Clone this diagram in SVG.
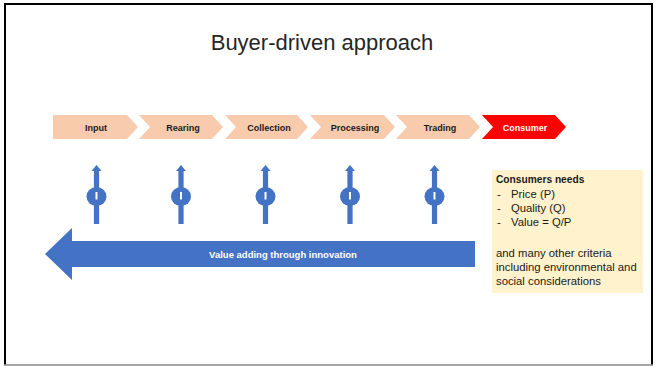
<svg xmlns="http://www.w3.org/2000/svg" width="657" height="367" viewBox="0 0 657 367">
  <style>
    .stage { fill: #F8CBAD; }
    .stage-label { font-family: "Liberation Sans", Arial, sans-serif; font-size: 9px; font-weight: bold; fill: #1a1a1a; text-anchor: middle; }
    .lift { fill: #4472C4; }
    .note { font-family: "Liberation Sans", Arial, sans-serif; font-size: 11.3px; fill: #1a1a1a; }
    .note-head { font-family: "Liberation Sans", Arial, sans-serif; font-size: 10.2px; font-weight: bold; fill: #1a1a1a; }
  </style>
  <defs>
    <!-- one upward innovation arrow with its round knob, centred on x=0 -->
    <g id="lift-arrow">
      <rect class="lift" x="-2.6" y="170" width="5.2" height="54"/>
      <polygon class="lift" points="0,165 5,171 -5,171"/>
      <ellipse class="lift" cx="0" cy="196.5" rx="10" ry="9.5"/>
      <rect x="-1" y="192" width="2" height="7.5" fill="#ffffff"/>
    </g>
  </defs>

  <!-- slide frame -->
  <rect x="0" y="0" width="657" height="367" fill="#ffffff"/>
  <line x1="5" y1="4" x2="652" y2="4" stroke="#000000" stroke-width="2"/>
  <line x1="5" y1="3" x2="5" y2="365" stroke="#000000" stroke-width="2"/>
  <line x1="652" y1="3" x2="652" y2="365" stroke="#000000" stroke-width="2"/>
  <line x1="4" y1="365" x2="653" y2="365" stroke="#8a8a8a" stroke-width="1.5"/>

  <text x="322" y="50" font-family="'Liberation Sans', Arial, sans-serif" font-size="22" fill="#262626" text-anchor="middle">Buyer-driven approach</text>

  <!-- value chain stages -->
  <g id="stage-input">
    <polygon class="stage" points="53,115 127,115 138,127 127,139 53,139"/>
    <text class="stage-label" x="96" y="130.5">Input</text>
  </g>
  <g id="stage-rearing">
    <polygon class="stage" points="139,115 212,115 223,127 212,139 139,139 150,127"/>
    <text class="stage-label" x="183" y="130.5">Rearing</text>
  </g>
  <g id="stage-collection">
    <polygon class="stage" points="225,115 297,115 308,127 297,139 225,139 236,127"/>
    <text class="stage-label" x="269" y="130.5">Collection</text>
  </g>
  <g id="stage-processing">
    <polygon class="stage" points="310,115 384,115 395,127 384,139 310,139 321,127"/>
    <text class="stage-label" x="355" y="130.5">Processing</text>
  </g>
  <g id="stage-trading">
    <polygon class="stage" points="396,115 469,115 480,127 469,139 396,139 407,127"/>
    <text class="stage-label" x="440" y="130.5">Trading</text>
  </g>
  <g id="stage-consumer">
    <polygon fill="#FF0000" points="482,115 555,115 566,127 555,139 482,139 493,127"/>
    <text class="stage-label" x="525" y="130.5" style="fill:#ffffff">Consumer</text>
  </g>

  <!-- innovation arrows under each stage -->
  <g id="connectors">
    <use href="#lift-arrow" x="96.5"/>
    <use href="#lift-arrow" x="181"/>
    <use href="#lift-arrow" x="265.5"/>
    <use href="#lift-arrow" x="350"/>
    <use href="#lift-arrow" x="434.5"/>
  </g>

  <!-- value adding arrow -->
  <g id="value-arrow">
    <polygon fill="#4472C4" points="45,254 72,228 72,241 475,241 475,267 72,267 72,280"/>
    <text x="283" y="257.5" font-family="'Liberation Sans', Arial, sans-serif" font-size="9.5" font-weight="bold" fill="#ffffff" text-anchor="middle">Value adding through innovation</text>
  </g>

  <!-- consumer needs note -->
  <g id="consumer-needs">
    <rect x="492" y="170" width="151" height="123" fill="#FFF2CC"/>
    <text class="note-head" x="496" y="183">Consumers needs</text>
    <text class="note" x="497" y="197.5">-</text>
    <text class="note" x="511" y="197.5">Price (P)</text>
    <text class="note" x="497" y="211.8">-</text>
    <text class="note" x="511" y="211.8">Quality (Q)</text>
    <text class="note" x="497" y="226">-</text>
    <text class="note" x="511" y="226">Value = Q/P</text>
    <text class="note" x="496" y="256.5">and many other criteria</text>
    <text class="note" x="496" y="270.8">including environmental and</text>
    <text class="note" x="496" y="285">social considerations</text>
  </g>
</svg>
